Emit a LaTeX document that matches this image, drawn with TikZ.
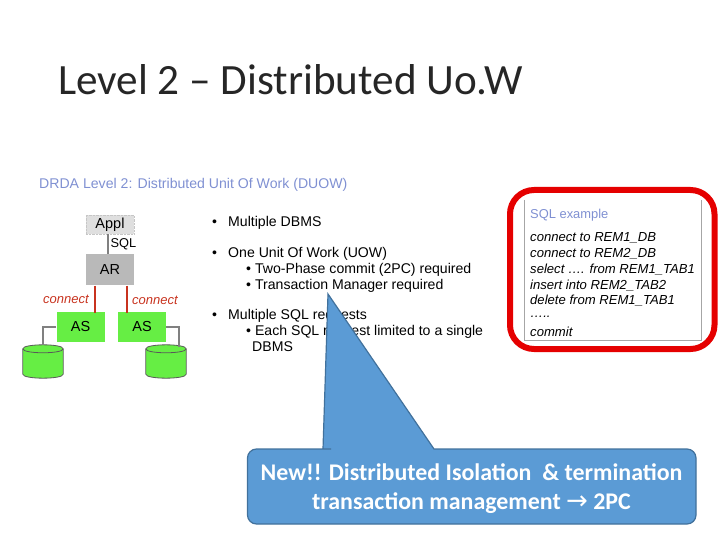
\documentclass[tikz,border=0pt]{standalone}
\usepackage{fontspec}
\setmainfont{Liberation Sans}
\newfontfamily\slidefont{Carlito}
\newfontfamily\arrowfont{DejaVu Sans}
\usetikzlibrary{positioning}

\definecolor{headblue}{HTML}{7F90D2}
\definecolor{asgreen}{HTML}{66EE44}
\definecolor{callblue}{HTML}{5B9BD5}
\definecolor{callline}{HTML}{41719C}
\definecolor{linkred}{HTML}{C8331F}

% can drawn over a plain node of the same name
\newcommand{\dbcan}[1]{%
  \draw[dbline, fill=asgreen] ([yshift=-4pt]#1.north west) .. controls +(0,-5.3) and +(0,-5.3) .. ([yshift=-4pt]#1.north east)
    -- ([yshift=4pt]#1.south east) .. controls +(0,5.3) and +(0,5.3) .. ([yshift=4pt]#1.south west) -- cycle;
  \draw[dbline] ([yshift=-4pt]#1.north west) .. controls +(0,5.3) and +(0,5.3) .. ([yshift=-4pt]#1.north east);
}

\begin{document}
\begin{tikzpicture}[
    x=1pt, y=-1pt,
    node distance=20pt,
    box/.style={draw=none, inner sep=0pt, minimum width=48pt, font=\fontsize{14.5}{16}\selectfont},
    asbox/.style={box, fill=asgreen, minimum height=30pt},
    dbnode/.style={inner sep=0pt, minimum width=40pt, minimum height=33pt},
    dbline/.style={gray!70!black, line width=0.8pt},
    line/.style={anchor=west, inner sep=0pt, font=\fontsize{14.1}{16}\selectfont},
    sqlline/.style={anchor=west, inner sep=0pt, font=\fontsize{13.1}{14}\selectfont\itshape},
    link/.style={gray, line width=1.6pt},
    redlink/.style={linkred, line width=1.8pt},
    redlabel/.style={inner sep=0pt, text=linkred, font=\fontsize{13}{14}\selectfont\itshape},
    callout/.style={fill=callblue, draw=callline, line width=1.2pt, rounded corners=9pt}
  ]
  \useasboundingbox (0,0) rectangle (720,540);

  % Title
  \node (title) [anchor=west, inner sep=0pt, text=black!85, font=\fontsize{43.2}{46}\slidefont] at (58,80) {Level 2 – Distributed Uo.W};
  \node (head) [anchor=west, inner sep=0pt, text=headblue, font=\fontsize{14.1}{16}\selectfont] at (39,185) {DRDA Level 2: Distributed Unit Of Work (DUOW)};

  % Appl / AR / AS boxes
  \node (appl) [box, fill=gray!25, draw=gray!45, densely dotted, minimum height=19pt] at (110,224.5) {Appl};
  \node (ar) [box, fill=gray!55, minimum height=31pt, below=20pt of appl] {AR};
  \node (asl) [asbox] at (80.5,327) {AS};
  \node (asr) [asbox] at (142,327) {AS};

  % Databases
  \node (dbl) [dbnode] at (43,361.5) {};
  \node (dbr) [dbnode] at (166,361.5) {};
  \dbcan{dbl}
  \dbcan{dbr}
  \coordinate (dbrtop) at (179,347);

  % Connections
  \draw[link] (appl.south -| 108,0) -- (ar.north -| 108,0);
  \draw[redlink] (ar.south -| asl.east) ++(-10,0) -- ++(0,27);
  \draw[redlink] (ar.south -| asr.west) ++(9,0) -- ++(0,27);
  \draw[link] (asl.west) -| (dbl.north);
  \draw[link] (asr.east) -| (dbrtop);

  % Link labels
  \node (sqllabel) [inner sep=0pt, font=\fontsize{12.8}{14}\selectfont] at (123.5,244) {SQL};
  \node (connl) [redlabel] at (66,299) {connect};
  \node (connr) [redlabel] at (155,300) {connect};

  % Bullet list
  \node (b1) [line] at (212,223) {•};
  \node (t1) [line] at (228,223) {Multiple DBMS};
  \node (b2) [line] at (212,254) {•};
  \node (t2) [line] at (228,254) {One Unit Of Work (UOW)};
  \node (t3) [line] at (246,270) {• Two-Phase commit (2PC) required};
  \node (t4) [line] at (246,286) {• Transaction Manager required};
  \node (b3) [line] at (212,316) {•};
  \node (t5) [line] at (228,316) {Multiple SQL requests};
  \node (t6) [line] at (246,332) {• Each SQL request limited to a single};
  \node (t7) [line] at (252,347) {DBMS};

  % SQL example
  \node (sqlbox) [minimum width=176pt, minimum height=140pt, inner sep=0pt] at (613,270) {};
  \draw[gray!70, line width=0.8pt] (sqlbox.north west) |- (sqlbox.south east) -- (sqlbox.north east);
  \node (sqlhead) [anchor=west, inner sep=0pt, text=headblue, font=\fontsize{12.9}{14}\selectfont] at (530,215) {SQL example};
  \node (s1) [sqlline] at (530,238) {connect to REM1\_DB};
  \node (s2) [sqlline] at (530,254) {connect to REM2\_DB};
  \node (s3) [sqlline] at (530,270) {select …. from REM1\_TAB1};
  \node (s4) [sqlline] at (530,286) {insert into REM2\_TAB2};
  \node (s5) [sqlline] at (530,301) {delete from REM1\_TAB1};
  \node (s6) [sqlline] at (530,317) {…..};
  \node (s7) [sqlline] at (530,332) {commit};
  \draw[red!90!black, line width=6pt, rounded corners=24pt] (510,190) rectangle (714.5,349);

  % Callout
  \draw[callout] (247.5,449) -- (322,449) [sharp corners] -- (323,449) -- (328,294) -- (434,449) [rounded corners=9pt] -- (696,449) -- (696,524) -- (247.5,524) -- cycle;
  \node (note) [align=center, inner sep=0pt, text=white, font=\fontsize{23.9}{29}\slidefont\bfseries] at (471.5,488.5) {New!! Distributed Isolation \ \&\ termination\\transaction management {\arrowfont\mdseries\fontsize{26}{29}\selectfont →} 2PC};
\end{tikzpicture}
\end{document}
